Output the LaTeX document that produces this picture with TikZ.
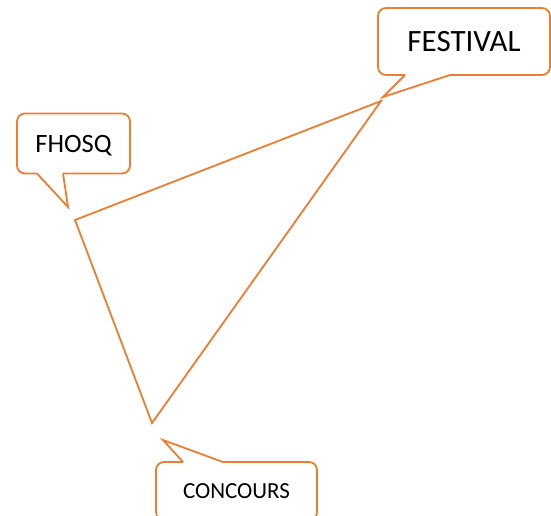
\documentclass[tikz,border=0pt]{standalone}
\usepackage{fontspec}
\setmainfont{Carlito}
\definecolor{myorange}{RGB}{237,125,49}

\begin{document}
\begin{tikzpicture}[x = 1pt, y = -1pt]
		\tikzstyle{every node} = [font = \normalsize]
		\tikzstyle{bulle} = [draw = myorange, line width = 1.8pt, fill = white, rounded corners = 8pt, inner sep = 0pt, text depth = 0pt]
		\tikzstyle{trait} = [myorange, line width = 1.8pt]
		
		\useasboundingbox (0,0) rectangle (551,515);
		
		% sommets du triangle
		\coordinate (vFest) at (381,101);
		\coordinate (vFhosq) at (75,220);
		\coordinate (vConc) at (152,423);
		\draw [trait, line join = miter] (vFhosq) -- (vFest) -- (vConc) -- cycle;
		
		% FESTIVAL
		\node [bulle, minimum width = 172pt, minimum height = 67pt, font = \fontsize{31}{37}\selectfont] (fest) at (464,41.5) {FESTIVAL};
		\coordinate (pFest) at (383,97);
		\fill [white] (405,71) rectangle (450,77);
		\fill [white] (405,75) -- (pFest) -- (450,75) -- cycle;
		\draw [trait] (405,75) -- (pFest) -- (450,75); %pointe
		
		% FHOSQ
		\node [bulle, minimum width = 113pt, minimum height = 60pt, font = \fontsize{26.5}{32}\selectfont] (fhosq) at (73.5,143.5) {FHOSQ};
		\coordinate (pFhosq) at (68,207);
		\fill [white] (37,169) rectangle (63,175);
		\fill [white] (37,173.5) -- (pFhosq) -- (63,173.5) -- cycle;
		\draw [trait] (37,173.5) -- (pFhosq) -- (63,173.5); %pointe
		
		% CONCOURS
		\node [bulle, minimum width = 161pt, minimum height = 58pt, font = \fontsize{23}{28}\selectfont] (conc) at (236.5,491) {CONCOURS};
		\coordinate (pConc) at (163,440);
		\fill [white] (183,460) rectangle (223,466);
		\fill [white] (183,462) -- (pConc) -- (223,462) -- cycle;
		\draw [trait] (183,462) -- (pConc) -- (223,462); %pointe
	\end{tikzpicture}
\end{document}
